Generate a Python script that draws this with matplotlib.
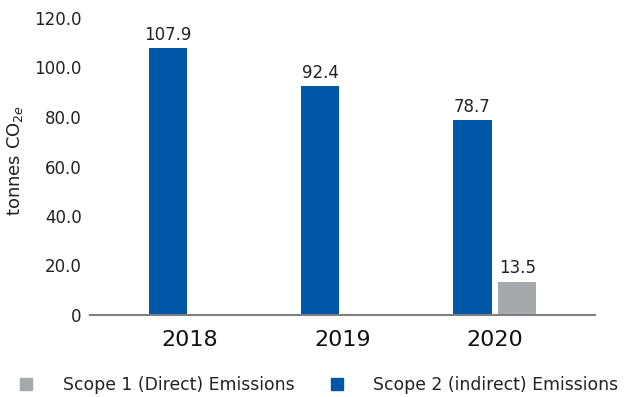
import numpy as np
import matplotlib.pyplot as plt
from matplotlib.lines import Line2D

years = ['2018', '2019', '2020']
scope2 = [107.9, 92.4, 78.7]   # indirect emissions, tonnes CO2e
scope1 = [None, None, 13.5]     # direct emissions, only reported for 2020
yticks = [0, 20, 40, 60, 80, 100, 120]

blue = '#0057a8'
grey = '#a7a8ac'

plt.rcParams['font.family'] = 'DejaVu Sans'

fig = plt.figure(figsize=(6.31, 3.97), dpi=100)
ax = fig.add_axes([90 / 631, 82 / 397, 505 / 631, 297 / 397])

x = np.arange(len(years))
w = 0.25
b2 = ax.bar(x - 0.145, scope2, width=w, color=blue)
ax.bar_label(b2, labels=[f'{v:.1f}' for v in scope2], padding=3, fontsize=12, color='#222222')

idx = [i for i, v in enumerate(scope1) if v is not None]
vals = [scope1[i] for i in idx]
b1 = ax.bar(x[idx] + 0.15, vals, width=w, color=grey)
ax.bar_label(b1, labels=[f'{v:.1f}' for v in vals], padding=3, fontsize=12, color='#222222')

ax.set_xlim(-0.658, 2.66)
ax.set_ylim(0, 120)
ax.set_xticks(x)
ax.set_xticklabels(years, fontsize=16, color='#111111')
ax.set_yticks(yticks)
ax.set_yticklabels(['0'] + [f'{v:.1f}' for v in yticks[1:]], fontsize=12, color='#222222')
ax.tick_params(axis='both', length=0)
ax.tick_params(axis='x', pad=11)
ax.tick_params(axis='y', pad=6)

for s in ['top', 'right', 'left']:
    ax.spines[s].set_visible(False)
ax.spines['bottom'].set_color('#7f7f7f')
ax.spines['bottom'].set_linewidth(1.5)

ax.set_ylabel('tonnes CO$_{2e}$', fontsize=13, color='#222222')
ax.yaxis.set_label_coords(-0.128, 0.52)

handles = [
    Line2D([], [], marker='s', ls='', markersize=9, color=grey),
    Line2D([], [], marker='s', ls='', markersize=9, color=blue),
]
fig.legend(handles, ['Scope 1 (Direct) Emissions', 'Scope 2 (indirect) Emissions'],
           loc='center left', bbox_to_anchor=(-0.010, 12 / 397), ncol=2, frameon=False,
           fontsize=12.4, handletextpad=1.1, columnspacing=1.5, labelcolor='#222222')

fig.savefig('out.png', dpi=100)
